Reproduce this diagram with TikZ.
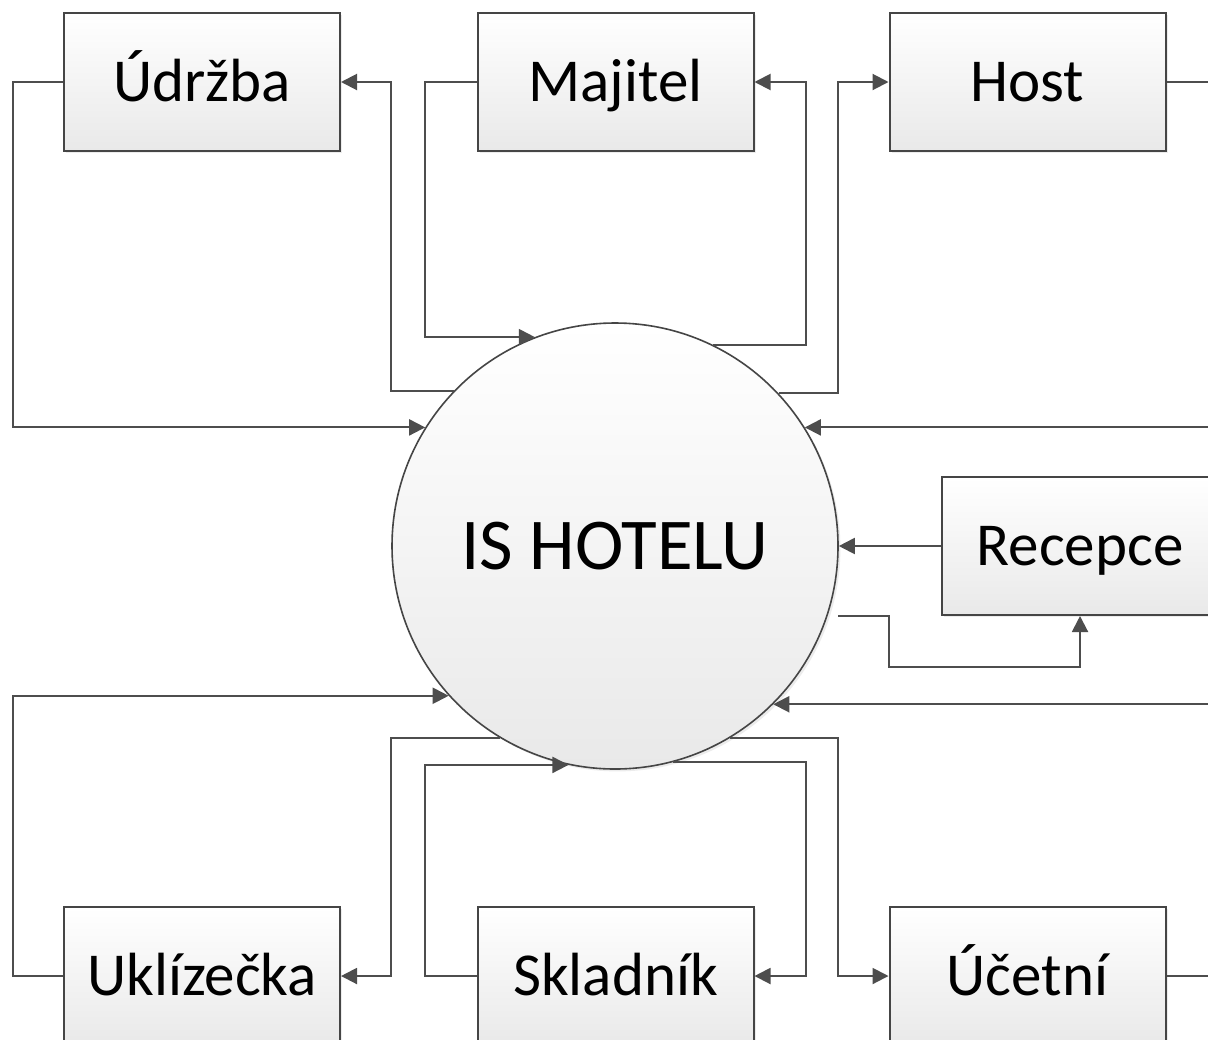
\documentclass[tikz,border=0pt]{standalone}
\usepackage{fontspec}
\setmainfont{Carlito}
\usetikzlibrary{arrows.meta,calc,shadows}
\definecolor{linegray}{HTML}{4D4D4D}
\definecolor{boxborder}{HTML}{454545}
\definecolor{boxbottom}{HTML}{E9E9E9}
\begin{document}
\begin{tikzpicture}[x=0.5pt,y=-0.5pt,
  conn/.style={line width=1pt, draw=linegray},
  arr/.style={conn, -{Triangle[length=8pt,width=8pt]}},
  entity/.style={draw=boxborder, line width=1pt, top color=white, bottom color=boxbottom,
    minimum width=138pt, minimum height=69pt, inner sep=0pt,
    font=\fontsize{30.5}{36}\selectfont, text height=19.6pt, text depth=0pt,
    drop shadow={shadow xshift=1.2pt, shadow yshift=-1.2pt, opacity=0.15, fill=gray}},
  proc/.style={circle, draw=boxborder, line width=0.8pt, top color=white, bottom color=boxbottom,
    minimum size=223pt, inner sep=0pt,
    font=\fontsize{36.5}{44}\selectfont, text height=23.5pt, text depth=0pt,
    drop shadow={shadow xshift=1.2pt, shadow yshift=-1.2pt, opacity=0.15, fill=gray}}]
\useasboundingbox (0,0) rectangle (1208,1039);
\fill[white] (0,0) rectangle (1208,1039);
\clip (0,0) rectangle (1208,1039);

\node[proc] (c) at (615,546) {IS HOTELU};

\node[entity] (udrzba) at (202,82) {Údržba};
\node[entity] (majitel) at (615.5,82) {Majitel};
\node[entity] (host) at (1027.5,82) {Host};
\node[entity] (recepce) at (1080,546) {Recepce};
\node[entity] (uklizecka) at (202,976) {Uklízečka};
\node[entity] (skladnik) at (615.5,976) {Skladník};
\node[entity] (ucetni) at (1027.5,976) {Účetní};

\coordinate (r0) at (838,616);

% top
\draw[arr] (udrzba.west) -- ++(-50,0) |- (c.148);
\draw[arr] (c.136) -| ($(udrzba.east)+(50,0)$) -- (udrzba.east);
\draw[arr] (majitel.west) -- ++(-52,0) |- (c.111);
\draw[arr] (c.64) -| ($(majitel.east)+(51,0)$) -- (majitel.east);
\draw[arr] (c.43) -| ($(host.west)+(-51,0)$) -- (host.west);
\draw[arr] (host.east) -- ++(64,0) |- (c.32);
% right
\draw[arr] (recepce.west) -- (c.east);
\draw[arr] (r0) -- ++(51,0) |- ($(recepce.south)+(0,51)$) -- (recepce.south);
\draw[arr] (ucetni.east) -- ++(64,0) |- (c.-45);
% bottom
\draw[arr] (uklizecka.west) -- ++(-50,0) |- (c.222);
\draw[arr] (c.239) -| ($(uklizecka.east)+(50,0)$) -- (uklizecka.east);
\draw[arr] (skladnik.west) -- ++(-52,0) |- (c.258);
\draw[arr] (c.285) -| ($(skladnik.east)+(51,0)$) -- (skladnik.east);
\draw[arr] (c.301) -| ($(ucetni.west)+(-51,0)$) -- (ucetni.west);
\end{tikzpicture}
\end{document}
